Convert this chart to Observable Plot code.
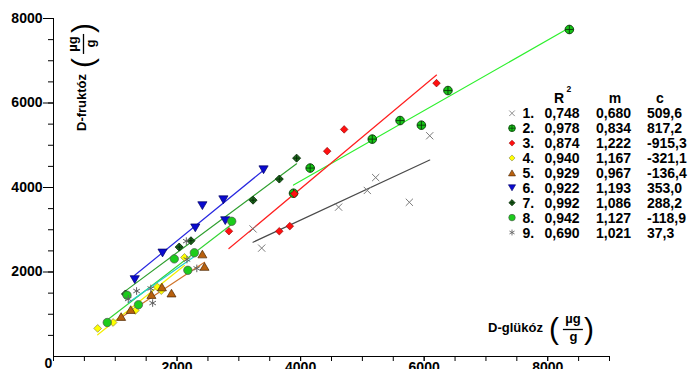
<!DOCTYPE html>
<html><head><meta charset="utf-8">
<script src="https://cdn.jsdelivr.net/npm/d3@7"></script>
<script src="https://cdn.jsdelivr.net/npm/@observablehq/plot@0.6"></script>
<style>
html,body{margin:0;padding:0;background:#fff;}
#wrap{position:relative;width:692px;height:369px;overflow:hidden;background:#fff;}
#wrap svg{position:absolute;left:0;top:0;font-family:"Liberation Sans",Arial,sans-serif;font-weight:bold;font-size:14px;}
</style></head><body><div id="wrap"></div>
<script>
// ---- data (D-glükóz, D-fruktóz in µg/g) ----
const seriesNames = ["1.","2.","3.","4.","5.","6.","7.","8.","9."];
const gluc1 = [3230, 3370, 4615, 5080, 5215, 5760, 6090];
const fruc1 = [3020, 2565, 3535, 3930, 4235, 3650, 5225];
const gluc2 = [3885, 4155, 5160, 5610, 5955, 6385, 8350];
const fruc2 = [3865, 4460, 5145, 5585, 5475, 6295, 7740];
const gluc3 = [2840, 3655, 3825, 3900, 4430, 4705, 6200];
const fruc3 = [2965, 2965, 3085, 3850, 4860, 5375, 6470];
const gluc4 = [715, 965, 1325, 1680, 1745, 2120];
const fruc4 = [665, 805, 1090, 1645, 1560, 2345];
const gluc5 = [1095, 1250, 1585, 1755, 1910, 2410, 2445];
const fruc5 = [945, 1110, 1465, 1645, 1500, 2425, 2130];
const gluc6 = [1315, 1765, 2295, 2410, 2750, 2780, 3400];
const fruc6 = [1820, 2450, 3045, 3570, 3710, 3215, 4420];
const gluc7 = [1165, 2035, 2225, 3230, 3655, 3935];
const fruc7 = [1480, 2590, 2740, 3700, 4200, 4695];
const gluc8 = [870, 1190, 1375, 1955, 2175, 2280, 2885];
const fruc8 = [805, 1450, 1225, 2310, 2040, 2455, 3200];
const gluc9 = [1210, 1345, 1575, 1605, 2150, 2160, 2320];
const fruc9 = [1360, 1550, 1610, 1265, 2730, 2295, 2085];
const r2 = [0.748, 0.978, 0.874, 0.940, 0.929, 0.922, 0.992, 0.942, 0.690];
const slope = [0.680, 0.834, 1.222, 1.167, 0.967, 1.193, 1.086, 1.127, 1.021];
const intercept = [509.6, 817.2, -915.3, -321.1, -136.4, 353.0, 288.2, -118.9, 37.3];
const xTickLabels = [2000, 4000, 6000, 8000];
const yTickLabels = [2000, 4000, 6000, 8000];
const xMinorTicks = d3.range(0, 9001, 500);
const yMinorTicks = d3.range(500, 8001, 500);
const zeroLabel = [{x: 0, y: 0, t: "0"}];

const glucAll = [gluc1,gluc2,gluc3,gluc4,gluc5,gluc6,gluc7,gluc8,gluc9];
const frucAll = [fruc1,fruc2,fruc3,fruc4,fruc5,fruc6,fruc7,fruc8,fruc9];

// ---- symbols ----
const rad = s => Math.sqrt(s / Math.PI);
const sym = {
  times:{draw(c,s){const r=rad(s);c.moveTo(-r,-r);c.lineTo(r,r);c.moveTo(-r,r);c.lineTo(r,-r);}},
  crossCircle:{draw(c,s){const r=rad(s);c.moveTo(r,0);c.arc(0,0,r,0,2*Math.PI);c.closePath();c.moveTo(-r,0);c.lineTo(r,0);c.moveTo(0,-r);c.lineTo(0,r);}},
  diamond:{draw(c,s){const r=rad(s);c.moveTo(0,-r);c.lineTo(r,0);c.lineTo(0,r);c.lineTo(-r,0);c.closePath();}},
  crossDiamond:{draw(c,s){const r=rad(s);c.moveTo(0,-r);c.lineTo(r,0);c.lineTo(0,r);c.lineTo(-r,0);c.closePath();c.moveTo(-r*0.7,0);c.lineTo(r*0.7,0);c.moveTo(0,-r*0.7);c.lineTo(0,r*0.7);}},
  triUp:{draw(c,s){const r=rad(s),h=0.85*r;c.moveTo(0,-h);c.lineTo(r,h);c.lineTo(-r,h);c.closePath();}},
  triDown:{draw(c,s){const r=rad(s),h=0.85*r;c.moveTo(0,h);c.lineTo(r,-h);c.lineTo(-r,-h);c.closePath();}},
  circle:{draw(c,s){const r=rad(s);c.moveTo(r,0);c.arc(0,0,r,0,2*Math.PI);c.closePath();}},
  asterisk:{draw(c,s){const r=rad(s);for(let k=0;k<3;k++){const a=Math.PI/2+k*Math.PI/3;c.moveTo(r*Math.cos(a),r*Math.sin(a));c.lineTo(-r*Math.cos(a),-r*Math.sin(a));}}}
};
const styles = [
  {symbol:sym.times,       r:3.6, fill:"none",    stroke:"#7a7a7a", sw:1,   line:"#4a4a4a"},
  {symbol:sym.crossCircle, r:4.3, fill:"#16c516", stroke:"#0a3a0a", sw:0.9, line:"#2ef02e"},
  {symbol:sym.diamond,     r:3.8, fill:"#ff1010", stroke:"#8a0000", sw:0.6, line:"#ff2020"},
  {symbol:sym.diamond,     r:3.9, fill:"#ffff00", stroke:"#8a8a50", sw:0.7, line:"#f4ee00"},
  {symbol:sym.triUp,       r:4.5, fill:"#b8600e", stroke:"#4a2500", sw:0.7, line:"#d0742a"},
  {symbol:sym.triDown,     r:4.6, fill:"#0a0ad0", stroke:"#000060", sw:0.7, line:"#2828e0"},
  {symbol:sym.crossDiamond,r:4.0, fill:"#1f6f1f", stroke:"#062806", sw:0.9, line:"#2f9f2f"},
  {symbol:sym.circle,      r:4.2, fill:"#1ccc1c", stroke:"#505050", sw:0.7, line:"#35d535"},
  {symbol:sym.asterisk,    r:3.8, fill:"none",    stroke:"#606060", sw:1,   line:"#22cccc"}
];

const lineMarks = [], dotMarks = [];
glucAll.forEach((gx, i) => {
  const pts = gx.map((x, j) => ({x, y: frucAll[i][j]}));
  const x0 = d3.min(gx), x1 = d3.max(gx);
  const fit = [x0, x1].map(x => ({x, y: slope[i] * x + intercept[i]}));
  const st = styles[i];
  lineMarks.push(Plot.line(fit, {x:"x", y:"y", stroke: st.line, strokeWidth: 1.2}));
  dotMarks.push(Plot.dot(pts, {x:"x", y:"y", symbol: st.symbol, r: st.r, fill: st.fill, stroke: st.stroke, strokeWidth: st.sw}));
});

const chart = Plot.plot({
  width: 692, height: 369,
  marginLeft: 53, marginRight: 83, marginTop: 18, marginBottom: 13,
  style: {background: "white", color: "black"},
  x: {domain: [0, 9000], label: null},
  y: {domain: [0, 8000], label: null},
  marks: [
    Plot.axisY(yMinorTicks, {tickSize: 5, tickFormat: () => "", label: null}),
    Plot.axisY(yTickLabels, {tickSize: 10, tickPadding: 1, tickFormat: d => String(d), label: null}),
    Plot.axisX(xMinorTicks, {tickSize: 5, tickFormat: () => "", label: null}),
    Plot.axisX(xTickLabels, {tickSize: 5, tickPadding: 1, tickFormat: d => String(d), label: null}),
    Plot.ruleX([0], {y1: 0, y2: 8000, stroke: "black"}),
    Plot.ruleY([0], {stroke: "black"}),
    Plot.text(zeroLabel, {x: "x", y: "y", text: "t", dx: -5, dy: 2, lineAnchor: "top", fill: "black"}),
    ...lineMarks,
    ...dotMarks
  ]
});
document.getElementById("wrap").appendChild(chart);

// ---- overlay: axis titles and regression table ----
const ov = d3.select("#wrap").append("svg").attr("width", 692).attr("height", 369).style("pointer-events", "none");
function unitLabel(g, name) {
  const t = g.append("text").attr("x", 0).attr("y", 2.5).attr("font-size", 13).text(name);
  const L = t.node().getComputedTextLength();
  g.append("text").attr("x", L + 11).attr("y", 9.2).attr("font-size", 30).attr("font-weight", "normal").attr("text-anchor", "middle").text("(");
  g.append("text").attr("x", L + 30).attr("y", -6.6).attr("font-size", 13).attr("text-anchor", "middle").text("µg");
  g.append("line").attr("x1", L + 20).attr("x2", L + 40).attr("y1", 0).attr("y2", 0).attr("stroke", "black").attr("stroke-width", 1.3);
  g.append("text").attr("x", L + 30.5).attr("y", 11.2).attr("font-size", 13).attr("text-anchor", "middle").text("g");
  g.append("text").attr("x", L + 46).attr("y", 9.2).attr("font-size", 30).attr("font-weight", "normal").attr("text-anchor", "middle").text(")");
}
unitLabel(ov.append("g").attr("transform", "translate(488,329.5)"), "D-glükóz");
unitLabel(ov.append("g").attr("transform", "translate(83.5,131) rotate(-90)"), "D-fruktóz");

const fmt = (v, d) => v.toFixed(d).replace(".", ",");
const hdr = ov.append("g").attr("font-size", 14);
hdr.append("text").attr("x", 554).attr("y", 102.7).text("R");
hdr.append("text").attr("x", 566.5).attr("y", 92).attr("font-size", 8.5).text("2");
hdr.append("text").attr("x", 615).attr("y", 102.7).attr("text-anchor", "middle").text("m");
hdr.append("text").attr("x", 660).attr("y", 102.7).attr("text-anchor", "middle").text("c");
seriesNames.forEach((nm, i) => {
  const y = 118.3 + i * 14.9;
  const st = styles[i];
  const lr = st.r * 0.78;
  ov.append("path").attr("transform", `translate(512,${y - 5})`)
    .attr("d", d3.symbol(st.symbol, Math.PI * lr * lr)())
    .attr("fill", st.fill).attr("stroke", st.stroke).attr("stroke-width", st.sw * 0.85);
  const g = ov.append("g").attr("font-size", 14);
  g.append("text").attr("x", 522.5).attr("y", y).text(nm);
  g.append("text").attr("x", 544.5).attr("y", y).text(fmt(r2[i], 3));
  g.append("text").attr("x", 596).attr("y", y).text(fmt(slope[i], 3));
  g.append("text").attr("x", 647).attr("y", y).text(fmt(intercept[i], 1));
});
</script></body></html>
